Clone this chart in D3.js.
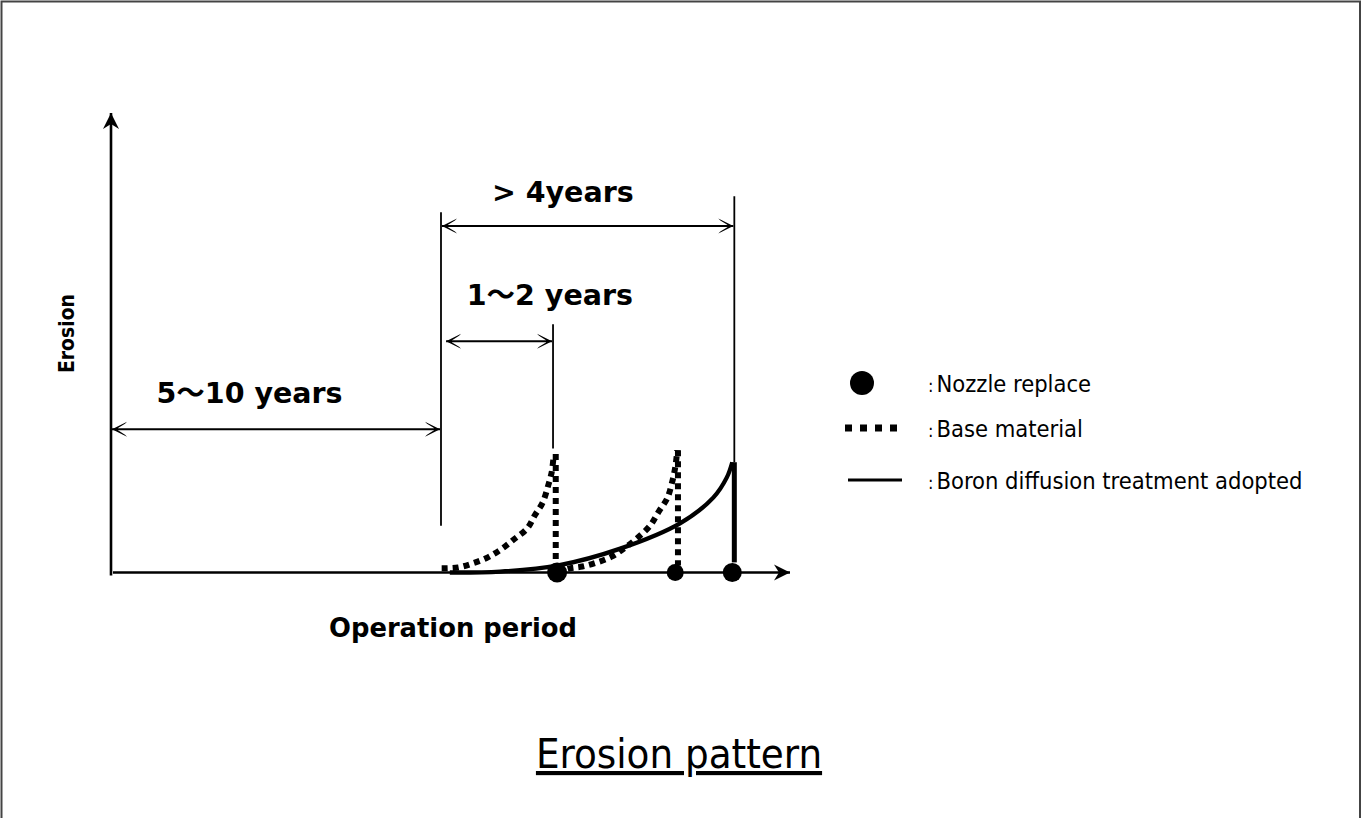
<html>
<head>
  <meta charset="UTF-8" />
  <script src="https://d3js.org/d3.v7.min.js"></script>
  <style>
    body { margin: 0; background: #fff; }
    svg { display: block; }
  </style>
</head>
<body>
  <div id="chart"></div>

  <script>
    var width = 1362
    var height = 818

    // schematic units: operation period (x) and erosion depth (y), both 0..100
    var xDomain = [0, 100]
    var yDomain = [0, 100]

    // base material, first nozzle (dotted) - rises, then replaced
    var baseMaterial1 = [
      [48.7, 0.9], [51.1, 1.1], [53.3, 2.0], [55.5, 3.3], [57.6, 5.2], [59.5, 7.4],
      [61.3, 9.6], [62.4, 12.4], [63.6, 15.3], [64.4, 19.0], [64.9, 21.8], [65.2, 25.5],
      [65.5, 25.8], [65.5, 1.5]
    ]
    // base material, second nozzle (dotted)
    var baseMaterial2 = [
      [65.7, 0.0], [67.6, 0.9], [69.4, 1.3], [71.6, 2.2], [73.8, 3.5], [75.7, 5.4],
      [77.6, 7.6], [79.4, 10.2], [80.6, 13.1], [81.9, 16.1], [82.6, 19.4], [83.1, 22.9],
      [83.4, 26.6], [83.5, 26.6], [83.5, 1.5]
    ]
    // boron diffusion treatment (solid)
    var boronTreated = [
      [49.9, 0.0], [57.3, 0.2], [65.7, 1.5], [75.0, 5.2], [83.8, 10.7],
      [88.7, 16.3], [90.7, 20.7], [91.5, 24.0]
    ]
    var boronDrop = [[91.8, 24.0], [91.8, 2.2]]

    // nozzle replacements
    var replacePoints = [[65.7, 0], [83.1, 0], [91.5, 0]]
    var replaceRadius = [10, 8.5, 9.5]

    // extension lines: x, bottom, top
    var extensionX = [48.6, 65.1, 91.8]
    var extensionBottom = [10.2, 27.0, 24.0]
    var extensionTop = [78.4, 54.0, 81.9]

    // dimension arrows
    var dimLabels = ["5\uFF5E10 years", "1\uFF5E2 years", "> 4years"]
    var dimFrom = [0, 49.2, 48.6]
    var dimTo = [48.6, 65.1, 91.8]
    var dimLevel = [31.2, 50.3, 75.4]
    var dimLabelX = [6.7, 52.4, 56.1]
    var dimLabelY = [36.9, 58.2, 80.7]

    var legendLabels = ["Nozzle replace", "Base material", "Boron diffusion treatment adopted"]

    var svg = d3.select("#chart")
      .append("svg")
      .attr("width", width)
      .attr("height", height)

    // frame (bottom edge is off the page)
    svg.append("path")
      .attr("d", "M1.5,830 L1.5,1.5 L1360,1.5 L1360,830")
      .attr("fill", "none")
      .attr("stroke", "#444")
      .attr("stroke-width", 2)

    var x = d3.scaleLinear().domain(xDomain).range([111, 790])
    var y = d3.scaleLinear().domain(yDomain).range([572.5, 113])

    var defs = svg.append("defs")
    defs.append("marker")
      .attr("id", "axisHead")
      .attr("markerUnits", "userSpaceOnUse")
      .attr("viewBox", "-16 -9 18 18")
      .attr("markerWidth", 18).attr("markerHeight", 18)
      .attr("refX", 0).attr("refY", 0)
      .attr("orient", "auto")
      .append("path")
      .attr("d", "M0,0 L-16,-8 L-11,0 L-16,8 Z")
      .attr("fill", "#000")

    defs.append("marker")
      .attr("id", "dimHead")
      .attr("markerUnits", "userSpaceOnUse")
      .attr("viewBox", "-16 -9 18 18")
      .attr("markerWidth", 18).attr("markerHeight", 18)
      .attr("refX", 0).attr("refY", 0)
      .attr("orient", "auto-start-reverse")
      .append("path")
      .attr("d", "M0,0 L-15,-7.5 L-13,-5.5 L-6,-1.2 L-6,1.2 L-13,5.5 L-15,7.5 Z")
      .attr("fill", "#000")

    // axes
    svg.append("line")
      .attr("x1", x(0)).attr("y1", y(0) + 3)
      .attr("x2", x(0)).attr("y2", y(100))
      .attr("stroke", "#000").attr("stroke-width", 2.6)
      .attr("marker-end", "url(#axisHead)")
    svg.append("line")
      .attr("x1", x(0) + 2).attr("y1", y(0))
      .attr("x2", x(100)).attr("y2", y(0))
      .attr("stroke", "#000").attr("stroke-width", 2.6)
      .attr("marker-end", "url(#axisHead)")

    // extension lines
    svg.selectAll(".ext")
      .data(extensionX)
      .enter().append("line")
      .attr("class", "ext")
      .attr("x1", function(d) { return x(d) })
      .attr("x2", function(d) { return x(d) })
      .attr("y1", function(d, i) { return y(extensionBottom[i]) })
      .attr("y2", function(d, i) { return y(extensionTop[i]) })
      .attr("stroke", "#000")
      .attr("stroke-width", 1.8)

    // dimension arrows + labels
    svg.selectAll(".dim")
      .data(dimLabels)
      .enter().append("line")
      .attr("class", "dim")
      .attr("x1", function(d, i) { return x(dimFrom[i]) + 1 })
      .attr("x2", function(d, i) { return x(dimTo[i]) - 1 })
      .attr("y1", function(d, i) { return y(dimLevel[i]) })
      .attr("y2", function(d, i) { return y(dimLevel[i]) })
      .attr("stroke", "#000")
      .attr("stroke-width", 2)
      .attr("marker-start", "url(#dimHead)")
      .attr("marker-end", "url(#dimHead)")

    svg.selectAll(".dimLabel")
      .data(dimLabels)
      .enter().append("text")
      .attr("class", "dimLabel")
      .attr("x", function(d, i) { return x(dimLabelX[i]) })
      .attr("y", function(d, i) { return y(dimLabelY[i]) })
      .style("font-family", "'DejaVu Sans', 'Noto Sans CJK JP', sans-serif")
      .style("font-weight", "bold")
      .style("font-size", "28.5px")
      .text(function(d) { return d })

    var line = d3.line()
      .x(function(d) { return x(d[0]) })
      .y(function(d) { return y(d[1]) })
      .curve(d3.curveCatmullRom)
    var straight = d3.line()
      .x(function(d) { return x(d[0]) })
      .y(function(d) { return y(d[1]) })

    // base material curves (dotted)
    ;[baseMaterial1, baseMaterial2].forEach(function(series) {
      var curve = series.slice(0, series.length - 2)
      var drop = series.slice(series.length - 2)
      svg.append("path")
        .attr("d", line(curve))
        .attr("fill", "none")
        .attr("stroke", "#000")
        .attr("stroke-width", 6)
        .attr("stroke-dasharray", "6,5")
      svg.append("path")
        .attr("d", straight(drop))
        .attr("fill", "none")
        .attr("stroke", "#000")
        .attr("stroke-width", 6)
        .attr("stroke-dasharray", "6,5")
    })

    // boron treated (solid)
    svg.append("path")
      .attr("d", line(boronTreated))
      .attr("fill", "none")
      .attr("stroke", "#000")
      .attr("stroke-width", 4.3)
    svg.append("path")
      .attr("d", straight(boronDrop))
      .attr("fill", "none")
      .attr("stroke", "#000")
      .attr("stroke-width", 5)

    // replacement points
    svg.selectAll(".replace")
      .data(replacePoints)
      .enter().append("circle")
      .attr("class", "replace")
      .attr("cx", function(d) { return x(d[0]) })
      .attr("cy", function(d) { return y(d[1]) })
      .attr("r", function(d, i) { return replaceRadius[i] })
      .attr("fill", "#000")

    // axis titles
    svg.append("text")
      .attr("transform", "translate(74," + y(52) + ") rotate(-90)")
      .attr("text-anchor", "middle")
      .attr("textLength", 79)
      .attr("lengthAdjust", "spacingAndGlyphs")
      .style("font-family", "'DejaVu Sans', sans-serif")
      .style("font-weight", "bold")
      .style("font-size", "22px")
      .text("Erosion")

    svg.append("text")
      .attr("x", 453)
      .attr("y", 637)
      .attr("text-anchor", "middle")
      .style("font-family", "'DejaVu Sans', sans-serif")
      .style("font-weight", "bold")
      .style("font-size", "25.8px")
      .text("Operation period")

    // legend
    var legend = svg.append("g")
    var rowY = [383, 428, 480]
    legend.append("circle")
      .attr("cx", 862).attr("cy", rowY[0]).attr("r", 12)
      .attr("fill", "#000")
    legend.append("line")
      .attr("x1", 845).attr("x2", 905)
      .attr("y1", rowY[1]).attr("y2", rowY[1])
      .attr("stroke", "#000").attr("stroke-width", 7)
      .attr("stroke-dasharray", "7,8")
    legend.append("line")
      .attr("x1", 848).attr("x2", 902)
      .attr("y1", rowY[2]).attr("y2", rowY[2])
      .attr("stroke", "#000").attr("stroke-width", 3)

    var legText = legend.selectAll(".legText")
      .data(legendLabels)
      .enter().append("text")
      .attr("class", "legText")
      .attr("x", 928)
      .attr("y", function(d, i) { return rowY[i] + 9 })
      .style("font-family", "'DejaVu Sans Condensed', 'DejaVu Sans', sans-serif")
      .style("font-stretch", "condensed")
      .style("font-size", "23.5px")
    legText.append("tspan").style("font-size", "18px").text(":")
    legText.append("tspan").attr("dx", 3).text(function(d) { return d })

    // caption
    svg.append("text")
      .attr("x", 679)
      .attr("y", 768)
      .attr("text-anchor", "middle")
      .style("font-family", "'DejaVu Sans Condensed', 'DejaVu Sans', sans-serif")
      .style("font-stretch", "condensed")
      .style("font-size", "41.5px")
      .style("text-decoration", "underline")
      .text("Erosion pattern")
  </script>
</body>
</html>
